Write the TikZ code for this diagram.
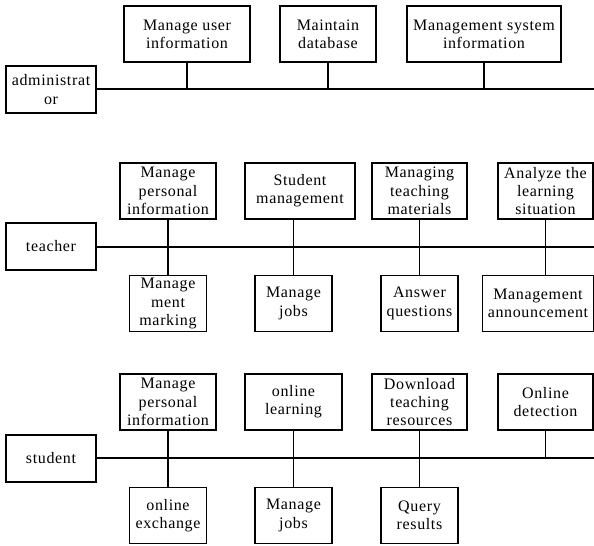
\documentclass[tikz,border=0pt]{standalone}
\usepackage{fontspec}
\setmainfont[LetterSpace=4]{Liberation Serif}
\tikzset{
  box/.style={draw, line width=0.9pt, align=center, inner sep=0pt, minimum height=42pt,
    font=\fontsize{12}{13.7}\selectfont},
  actor/.style={box, minimum width=67.5pt, minimum height=35.25pt},
  bus/.style={line width=0.9pt}
}
\begin{document}
\begin{tikzpicture}[x=0.75pt,y=0.75pt,yscale=-1,xscale=1]
\useasboundingbox (0,0) rectangle (594,546);

% administrator row
\node [actor] (adm) at (51,89.5) {administrat\\or};
\node [box, minimum width=94.5pt] (mui) at (187,34) {Manage user\\information};
\node [box, minimum width=72pt] (mdb) at (328,34) {Maintain\\database};
\node [box, minimum width=115.5pt] (msi) at (484,34) {Management system\\information};
\coordinate (e1) at (594,89);

%Straight Lines
\draw [bus] (adm.east |- e1) -- (e1);
\draw [bus] (mui.south) -- (mui.south |- e1);
\draw [bus] (mdb.south) -- (mdb.south |- e1);
\draw [bus] (msi.south) -- (msi.south |- e1);

% teacher row
\node [actor] (tea) at (51,246.5) {teacher};
\node [box, minimum width=72pt] (tpi) at (168,191) {Manage\\personal\\information};
\node [box, minimum width=82.5pt] (tsm) at (300,191) {Student\\management};
\node [box, minimum width=71.25pt] (ttm) at (419.5,191) {Managing\\teaching\\materials};
\node [box, minimum width=71.25pt] (tal) at (545.5,191) {Analyze the\\learning\\situation};
\node [box, minimum width=57.75pt] (tmm) at (168,303.5) {Manage\\ment\\marking};
\node [box, minimum width=57.75pt] (tmj) at (293.5,303.5) {Manage\\jobs};
\node [box, minimum width=57.75pt] (taq) at (419.5,303.5) {Answer\\questions};
\node [box, minimum width=83.25pt] (tma) at (538,303.5) {Management\\announcement};
\coordinate (e2) at (594,247);

%Straight Lines
\draw [bus] (tea.east |- e2) -- (e2);
\draw [bus] (tpi.south) -- (tmm.north);
\draw [bus] (tmj.north) -- (tmj.north |- tsm.south);
\draw [bus] (ttm.south) -- (taq.north);
\draw [bus] (tal.south) -- (tal.south |- tma.north);

% student row
\node [actor] (stu) at (51,458.5) {student};
\node [box, minimum width=72pt] (spi) at (168,402) {Manage\\personal\\information};
\node [box, minimum width=72.75pt] (sol) at (293.5,402) {online\\learning};
\node [box, minimum width=71.25pt] (sdr) at (419.5,402) {Download\\teaching\\resources};
\node [box, minimum width=71.25pt] (sod) at (545.5,402) {Online\\detection};
\node [box, minimum width=57.75pt] (soe) at (168,515.5) {online\\exchange};
\node [box, minimum width=57.75pt] (smj) at (293.5,515.5) {Manage\\jobs};
\node [box, minimum width=57.75pt] (sqr) at (419.5,515.5) {Query\\results};
\coordinate (e3) at (594,458);

%Straight Lines
\draw [bus] (stu.east |- e3) -- (e3);
\draw [bus] (spi.south) -- (soe.north);
\draw [bus] (sol.south) -- (smj.north);
\draw [bus] (sdr.south) -- (sqr.north);
\draw [bus] (sod.south) -- (sod.south |- e3);

\end{tikzpicture}
\end{document}
